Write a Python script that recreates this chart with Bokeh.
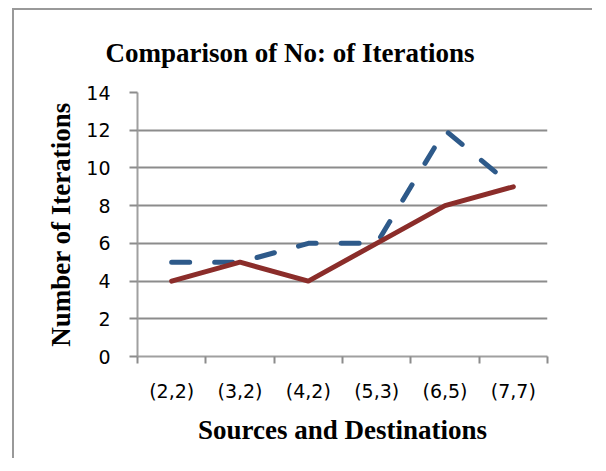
from bokeh.plotting import figure
from bokeh.models import (Range1d, LinearAxis, FixedTicker, ColumnDataSource)
from bokeh.embed import file_html
from bokeh.resources import INLINE

# ---- data ----
categories = ["(2,2)", "(3,2)", "(4,2)", "(5,3)", "(6,5)", "(7,7)"]
series_dashed = [5, 5, 6, 6, 12, 9]
series_solid = [4, 5, 4, 6, 8, 9]
y_ticks = [0, 2, 4, 6, 8, 10, 12, 14]

title_text = "Comparison of No: of Iterations"
x_title = "Sources and Destinations"
y_title = "Number of Iterations"

BLUE = "#2E5A8A"
RED = "#8B2D2A"
GRID = "#8C8C8C"
AXIS = "#A0A0A0"
TICK_FONT = "DejaVu Sans"
SERIF = "Liberation Serif"

n = len(categories)
centers = [i + 0.5 for i in range(n)]          # category slot centres
edges = list(range(n + 1))                      # category slot boundaries

src = ColumnDataSource(dict(x=centers, dashed=series_dashed, solid=series_solid))

p = figure(x_range=Range1d(0, n), y_range=Range1d(0, 14),
           width=580, height=450, output_backend="svg", toolbar_location=None,
           x_axis_location=None, y_axis_location="left",
           min_border_left=123, min_border_right=47, min_border_top=82,
           min_border_bottom=104, background_fill_color="white",
           border_fill_color="white")
p.outline_line_color = None
p.styles = {"margin-left": "12px", "margin-top": "8px",
            "border-left": "2px solid #999999",
            "border-top": "2px solid #999999"}

# title
p.title.text = title_text
p.title.text_font = SERIF
p.title.text_font_style = "bold"
p.title.text_font_size = "27px"
p.title.text_color = "black"
p.title.align = "left"
p.title.offset = -32
p.title.standoff = 50

# y axis
ya = p.yaxis[0]
ya.ticker = FixedTicker(ticks=y_ticks)
ya.axis_line_color = AXIS
ya.axis_line_width = 2
ya.major_tick_line_color = GRID
ya.major_tick_line_width = 2
ya.major_tick_out = 8
ya.major_tick_in = 0
ya.minor_tick_line_color = None
ya.major_label_text_font = TICK_FONT
ya.major_label_text_font_size = "19px"
ya.major_label_text_color = "black"
ya.major_label_standoff = 19
ya.axis_label = y_title
ya.axis_label_text_font = SERIF
ya.axis_label_text_font_style = "bold"
ya.axis_label_text_font_size = "27px"
ya.axis_label_text_color = "black"
ya.axis_label_standoff = 7

p.ygrid.ticker = FixedTicker(ticks=y_ticks)
p.ygrid.grid_line_color = GRID
p.ygrid.grid_line_width = 2
p.xgrid.visible = False

# x axis: boundary ticks, then category labels below
tick_axis = LinearAxis(ticker=FixedTicker(ticks=edges),
                       major_label_overrides={e: "" for e in edges},
                       major_label_standoff=0,
                       major_tick_out=7, major_tick_in=0,
                       major_tick_line_color=GRID, major_tick_line_width=2,
                       minor_tick_line_color=None,
                       axis_line_color=AXIS, axis_line_width=2)
p.add_layout(tick_axis, "below")

cat_axis = LinearAxis(ticker=FixedTicker(ticks=centers),
                      major_label_overrides={c: lab for c, lab in zip(centers, categories)},
                      axis_line_color=None, major_tick_line_color=None,
                      minor_tick_line_color=None,
                      major_label_text_font=TICK_FONT,
                      major_label_text_font_size="19px",
                      major_label_text_color="black",
                      major_label_standoff=10,
                      axis_label=x_title,
                      axis_label_text_font=SERIF,
                      axis_label_text_font_style="bold",
                      axis_label_text_font_size="27px",
                      axis_label_text_color="black",
                      axis_label_standoff=10)
p.add_layout(cat_axis, "below")

# series
p.line(x="x", y="dashed", source=src, line_color=BLUE, line_width=5,
       line_dash="18 25", line_cap="round", line_join="round")
p.line(x="x", y="solid", source=src, line_color=RED, line_width=5,
       line_cap="round", line_join="round")

open("out.html", "w").write(file_html(p, INLINE))
